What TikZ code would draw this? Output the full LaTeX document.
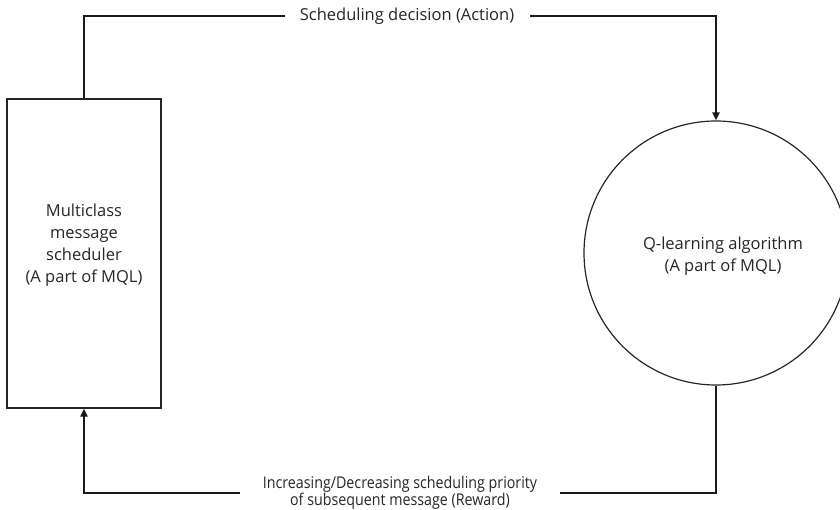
\documentclass[tikz,border=0pt]{standalone}
\usepackage{fontspec}
\setmainfont{Open Sans}
\newfontfamily\narrowfont[FakeStretch=0.88]{Open Sans}
\usetikzlibrary{arrows.meta}
\begin{document}
\begin{tikzpicture}[x=1pt,y=-1pt,
  box/.style={draw=black!85,line width=1.2pt,minimum width=154pt,minimum height=309pt,inner sep=0pt},
  ring/.style={draw=black!85,line width=1.2pt,circle,minimum size=264pt,inner sep=0pt},
  conn/.style={draw=black!90,line width=2pt},
  arr/.style={conn,-{Triangle[length=8pt,width=7pt]}},
  lab/.style={fill=white,inner sep=0pt,text=black!85,font=\fontsize{16.5}{22}\selectfont,align=center},
  blab/.style={fill=white,inner sep=0pt,text=black!85,font=\narrowfont\fontsize{16.2}{16}\selectfont,align=center}]
\useasboundingbox (0,0) rectangle (840,510);
\clip (0,0) rectangle (840,510);
\node[box] (sched) at (84,253.5) {};
\node[lab,fill=none] (schedtext) at (84,245) {Multiclass\\message\\scheduler\\(A part of MQL)};
\node[ring] (ql) at (716,253) {};
\node[lab,fill=none] (qltext) at (723,256) {Q-learning algorithm\\(A part of MQL)};
\coordinate (tl) at (84,16);
\coordinate (tr) at (716,16);
\coordinate (bl) at (84,493);
\coordinate (br) at (716,493);
\draw[arr] (sched.north) -- (tl) -- (tr) -- (ql.north);
\draw[arr] (ql.south) -- (br) -- (bl) -- (sched.south);
\node[lab,minimum width=245pt,minimum height=18pt] (action) at (407,16) {Scheduling decision (Action)};
\node[blab,minimum width=320pt,minimum height=34pt] (reward) at (400,493) {Increasing/Decreasing scheduling priority\\of subsequent message (Reward)};
\end{tikzpicture}
\end{document}
